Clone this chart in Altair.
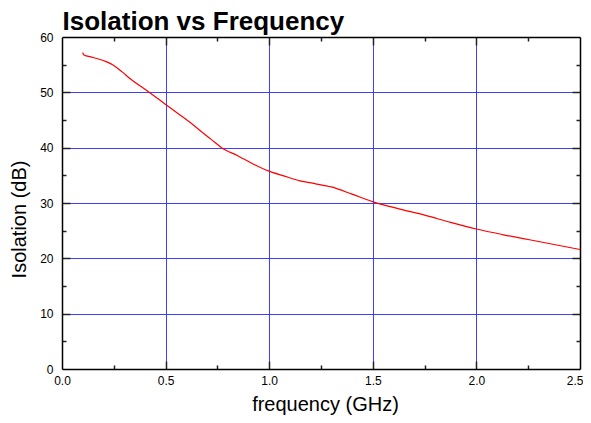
import altair as alt
import pandas as pd

# ---- data ----
freq = [0.100, 0.104, 0.150, 0.216, 0.248, 0.290, 0.328, 0.417, 0.497, 0.566,
        0.634, 0.666, 0.720, 0.770, 0.850, 0.920, 0.996, 1.070, 1.149, 1.220,
        1.300, 1.400, 1.502, 1.631, 1.750, 1.875, 2.000, 2.125, 2.250, 2.375, 2.500]
iso = [57.2, 56.8, 56.3, 55.5, 54.9, 53.7, 52.5, 50.1, 47.9, 46.0,
       44.1, 43.1, 41.5, 40.0, 38.5, 37.1, 35.8, 34.9, 34.0, 33.5,
       32.9, 31.6, 30.2, 28.9, 27.8, 26.5, 25.3, 24.3, 23.4, 22.5, 21.6]

x_labels = [0.0, 0.5, 1.0, 1.5, 2.0, 2.5]
y_labels = [0, 10, 20, 30, 40, 50, 60]
x_major = [0.5, 1.0, 1.5, 2.0]
y_major = [10, 20, 30, 40, 50]
x_minor = [0.25, 0.75, 1.25, 1.75, 2.25]
y_minor = [5, 15, 25, 35, 45, 55]

df = pd.DataFrame({"f": freq, "iso": iso})

W, H = 518, 332
FONT = "Liberation Sans"
GRID = "#2a2aff"


def layer(xaxis, yaxis, visible=False):
    return alt.Chart(df).mark_line(
        color="#ff0000", strokeWidth=1.2, opacity=1 if visible else 0,
        interpolate="monotone"
    ).encode(
        x=alt.X("f:Q", scale=alt.Scale(domain=[0, 2.5], nice=False, zero=False), axis=xaxis),
        y=alt.Y("iso:Q", scale=alt.Scale(domain=[0, 60], nice=False, zero=False), axis=yaxis),
    )


def tick_axis(orient, offset, values, size, **kw):
    props = dict(orient=orient, offset=offset, values=values, labels=False,
                 domain=False, grid=False, ticks=True, tickSize=size,
                 tickColor="#222222", tickWidth=1.5, title="")
    props.update(kw)
    return alt.Axis(**props)


grid_layer = layer(
    alt.Axis(orient="bottom", values=x_major, labels=False, domain=False, ticks=False,
             grid=True, gridColor=GRID, gridWidth=1, gridOpacity=0.9, title=""),
    alt.Axis(orient="left", values=y_major, labels=False, domain=False, ticks=False,
             grid=True, gridColor=GRID, gridWidth=1, gridOpacity=0.9, title=""),
)

last_x = x_labels[-1]
label_layer = layer(
    alt.Axis(orient="bottom", values=x_labels, format=".1f", labelFont=FONT,
             labelFontSize=12, labelColor="black", labelPadding=6, labelFlush=False,
             labelAlign={"condition": {"test": f"datum.value >= {last_x}", "value": "right"},
                         "value": "center"},
             labelOffset={"condition": {"test": f"datum.value >= {last_x}", "value": 3},
                          "value": 0},
             ticks=False, grid=False, domain=True, domainColor="black", domainWidth=1.5,
             title="frequency (GHz)", titleFont=FONT, titleFontSize=20,
             titleFontWeight="normal", titleColor="black", titleX=263, titleY=41,
             titleBaseline="alphabetic", titleAlign="center"),
    alt.Axis(orient="left", values=y_labels, format="d", labelFont=FONT,
             labelFontSize=12, labelColor="black", labelPadding=9, labelFlush=False,
             ticks=False, grid=False, domain=True, domainColor="black", domainWidth=1.5,
             title="Isolation (dB)", titleFont=FONT, titleFontSize=20,
             titleFontWeight="normal", titleColor="black", titleX=-37, titleY=182,
             titleBaseline="alphabetic", titleAlign="center"),
    visible=True,
)

# inward ticks on bottom / left
bl_major = layer(tick_axis("top", -H, x_major, 8), tick_axis("right", -W, y_major, 8))
bl_minor = layer(tick_axis("top", -H, x_minor, 4), tick_axis("right", -W, y_minor, 4))

# frame + inward ticks on top / right
tr_major = layer(
    tick_axis("bottom", -H, x_major, 8, domain=True, domainColor="black", domainWidth=1.5),
    tick_axis("left", -W, y_major, 8, domain=True, domainColor="black", domainWidth=1.5),
)
# the chart heading is carried by the top-edge axis as its title
tr_minor = layer(
    tick_axis("bottom", -H, x_minor, 4, title="Isolation vs Frequency", titleFont=FONT,
              titleFontSize=26, titleFontWeight="bold", titleColor="black",
              titleX=0, titleY=-8, titleAlign="left", titleBaseline="alphabetic"),
    tick_axis("left", -W, y_minor, 4),
)

chart = alt.layer(
    grid_layer, bl_major, bl_minor, tr_major, tr_minor, label_layer
).resolve_scale(
    x="independent", y="independent"
).resolve_axis(
    x="independent", y="independent"
).properties(
    width=W, height=H,
    autosize=alt.AutoSizeParams(type="none"),
    padding={"left": 54, "top": 29, "right": 3, "bottom": 46},
    background="white",
).configure_view(strokeWidth=0)

chart.save("out.html", embed_options={"renderer": "svg", "actions": False})
